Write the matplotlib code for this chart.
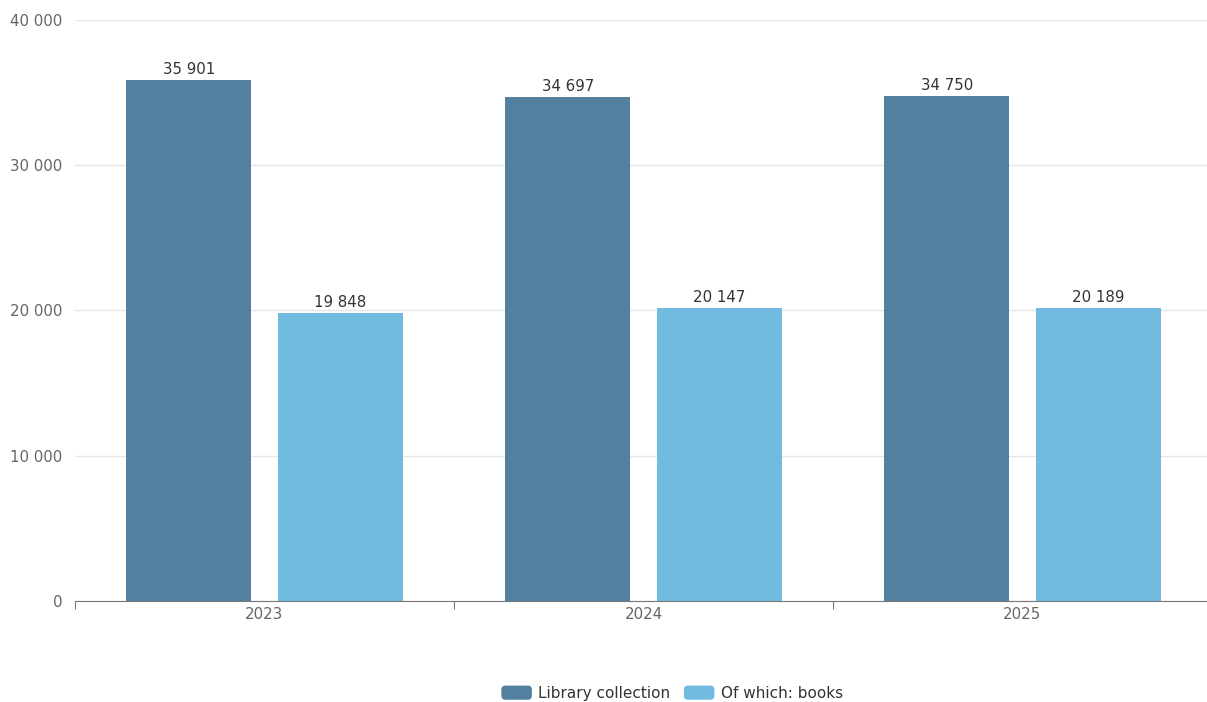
import matplotlib
matplotlib.use("Agg")
import matplotlib.pyplot as plt
from matplotlib.patches import FancyBboxPatch, Rectangle
from matplotlib.legend_handler import HandlerPatch
import numpy as np

plt.rcParams["font.family"] = ["DejaVu Sans"]

years = ["2023", "2024", "2025"]
collection = [35901, 34697, 34750]
books = [19848, 20147, 20189]
series_names = ["Library collection", "Of which: books"]

dark = "#54809f"
light = "#72bbe0"

fig = plt.figure(figsize=(12.07, 7.02), dpi=100)
ax = fig.add_axes([75 / 1207, 101 / 702, 1137 / 1207, 581 / 702])

x = np.arange(len(years))
w = 0.33
b1 = ax.bar(x - 0.2, collection, w, color=dark, label=series_names[0], zorder=2)
b2 = ax.bar(x + 0.2, books, w, color=light, label=series_names[1], zorder=2)

def fmt(v):
    return f"{v:,}".replace(",", " ")

for bars, vals in [(b1, collection), (b2, books)]:
    for r, v in zip(bars, vals):
        ax.text(r.get_x() + r.get_width() / 2, v + 200, fmt(v),
                ha="center", va="bottom", fontsize=10.8, color="#333333")

ax.set_xlim(-0.5, 2.5)
ax.set_ylim(0, 40000)
ax.set_yticks([0, 10000, 20000, 30000, 40000])
ax.set_yticklabels([fmt(v) for v in [0, 10000, 20000, 30000, 40000]])
ax.yaxis.grid(True, color="#e6e6e6", linewidth=1, zorder=0)
ax.set_axisbelow(True)

# category boundary ticks, labels at centres
ax.set_xticks([-0.5, 0.5, 1.5, 2.5])
ax.set_xticklabels([])
ax.set_xticks(x, minor=True)
ax.set_xticklabels(years, minor=True)
ax.tick_params(axis="x", which="major", length=6, color="#777777", direction="out")
ax.tick_params(axis="x", which="minor", length=0, pad=4, labelsize=10.8, labelcolor="#666666")
ax.tick_params(axis="y", length=0, pad=9, labelsize=10.8, labelcolor="#666666")

for s in ["top", "right", "left"]:
    ax.spines[s].set_visible(False)
ax.spines["bottom"].set_color("#777777")


class RoundHandler(HandlerPatch):
    def create_artists(self, legend, orig_handle, xdescent, ydescent,
                       width, height, fontsize, trans):
        p = FancyBboxPatch((-xdescent, -ydescent), width, height,
                           boxstyle="round,pad=0,rounding_size=3",
                           facecolor=orig_handle.get_facecolor(),
                           edgecolor="none", transform=trans)
        return [p]


leg = fig.legend(handles=[b1.patches[0], b2.patches[0]], labels=series_names,
                 loc="lower center", bbox_to_anchor=(672 / 1207, -0.018),
                 ncol=2, frameon=False, fontsize=11, handlelength=2.0,
                 handleheight=1.05, columnspacing=0.9, handletextpad=0.4,
                 handler_map={Rectangle: RoundHandler()})
for t in leg.get_texts():
    t.set_color("#333333")

fig.savefig("out.png", dpi=100)
